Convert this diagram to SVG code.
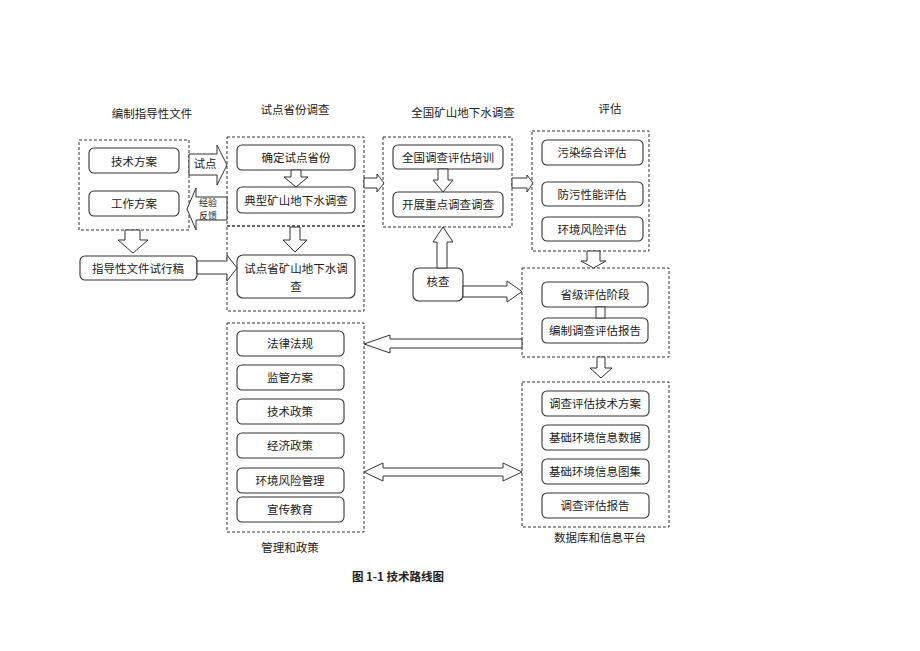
<svg xmlns="http://www.w3.org/2000/svg" width="920" height="651" viewBox="0 0 920 651">
<style>
text{font-family:"Noto Sans CJK SC","Liberation Sans",sans-serif;font-size:11.5px;fill:#222;text-anchor:middle;dominant-baseline:central}
.grp{fill:none;stroke:#333;stroke-width:1;stroke-dasharray:3,2}
.box{fill:#fff;stroke:#333;stroke-width:1.1}
.arr{fill:#fff;stroke:#333;stroke-width:1}
.sm{font-size:9px}
.cap{font-weight:bold;font-size:11.5px}
</style>
<rect width="920" height="651" fill="#fff"/>

<g id="titles">
<text x="152" y="113">编制指导性文件</text>
<text x="295" y="109">试点省份调查</text>
<text x="463" y="112">全国矿山地下水调查</text>
<text x="610" y="108">评估</text>
<text x="290" y="547">管理和政策</text>
<text x="600" y="537">数据库和信息平台</text>
<text class="cap" x="398" y="576">图 1-1 技术路线图</text>
</g>

<g id="group-guide">
<rect class="grp" x="79" y="140" width="110" height="90"/>
</g>
<g id="n-jishufangan"><rect class="box" x="89" y="148" width="90" height="25" rx="5"/><text x="134" y="161">技术方案</text></g>
<g id="n-gongzuofangan"><rect class="box" x="89" y="191" width="90" height="25" rx="5"/><text x="134" y="203">工作方案</text></g>
<g id="n-shixinggao"><rect class="box" x="80" y="256" width="117" height="24" rx="5"/><text x="138" y="268">指导性文件试行稿</text></g>

<g id="group-pilot">
<rect class="grp" x="227" y="137" width="137" height="89"/>
<rect class="grp" x="227" y="226" width="137" height="85"/>
</g>
<g id="n-queding"><rect class="box" x="237" y="145" width="118" height="25" rx="5"/><text x="296" y="157">确定试点省份</text></g>
<g id="n-dianxing"><rect class="box" x="237" y="187" width="118" height="26" rx="5"/><text x="296" y="200">典型矿山地下水调查</text></g>
<g id="n-shidiansheng"><rect class="box" x="237" y="255" width="118" height="43" rx="6"/><text x="296" y="268">试点省矿山地下水调</text><text x="296" y="286">查</text></g>

<g id="group-national">
<rect class="grp" x="383" y="137" width="129" height="90"/>
</g>
<g id="n-peixun"><rect class="box" x="393" y="145" width="110" height="24" rx="5"/><text x="448" y="157">全国调查评估培训</text></g>
<g id="n-kaizhan"><rect class="box" x="393" y="192" width="110" height="25" rx="5"/><text x="448" y="204">开展重点调查调查</text></g>
<g id="n-hecha"><rect class="box" x="413" y="268" width="50" height="33" rx="6"/><text x="438" y="281">核查</text></g>

<g id="group-eval">
<rect class="grp" x="532" y="131" width="117" height="120"/>
</g>
<g id="n-wuran"><rect class="box" x="542" y="140" width="101" height="25" rx="5"/><text x="592" y="152">污染综合评估</text></g>
<g id="n-fangwu"><rect class="box" x="542" y="182" width="101" height="24" rx="5"/><text x="592" y="194">防污性能评估</text></g>
<g id="n-fengxian"><rect class="box" x="542" y="217" width="101" height="24" rx="5"/><text x="592" y="229">环境风险评估</text></g>

<g id="group-province">
<rect class="grp" x="522" y="268" width="147" height="89"/>
</g>
<g id="n-shengji"><rect class="box" x="542" y="282" width="106" height="25" rx="5"/><text x="595" y="294">省级评估阶段</text></g>
<g id="n-bianzhi"><rect class="box" x="542" y="318" width="106" height="25" rx="5"/><text x="595" y="330">编制调查评估报告</text></g>

<g id="group-database">
<rect class="grp" x="522" y="382" width="147" height="145"/>
</g>
<g id="n-jsfa"><rect class="box" x="542" y="391" width="107" height="25" rx="5"/><text x="595" y="403">调查评估技术方案</text></g>
<g id="n-sjsj"><rect class="box" x="542" y="425" width="107" height="25" rx="5"/><text x="595" y="437">基础环境信息数据</text></g>
<g id="n-tuji"><rect class="box" x="542" y="459" width="107" height="25" rx="5"/><text x="595" y="471">基础环境信息图集</text></g>
<g id="n-baogao"><rect class="box" x="542" y="493" width="107" height="25" rx="5"/><text x="595" y="505">调查评估报告</text></g>

<g id="group-policy">
<rect class="grp" x="227" y="323" width="137" height="209"/>
</g>
<g id="n-falv"><rect class="box" x="237" y="331" width="107" height="25" rx="5"/><text x="290" y="343">法律法规</text></g>
<g id="n-jianguan"><rect class="box" x="237" y="365" width="107" height="25" rx="5"/><text x="290" y="377">监管方案</text></g>
<g id="n-jszc"><rect class="box" x="237" y="399" width="107" height="25" rx="5"/><text x="290" y="411">技术政策</text></g>
<g id="n-jjzc"><rect class="box" x="237" y="433" width="107" height="25" rx="5"/><text x="290" y="445">经济政策</text></g>
<g id="n-fxgl"><rect class="box" x="237" y="468" width="107" height="25" rx="5"/><text x="290" y="480">环境风险管理</text></g>
<g id="n-xuanchuan"><rect class="box" x="237" y="497" width="107" height="25" rx="5"/><text x="290" y="509">宣传教育</text></g>

<g id="connectors">
<polygon class="arr" points="189,154 217,154 217,145 227,165 217,185 217,175 189,175"/>
<text x="205" y="163">试点</text>
<polygon class="arr" points="227,197 196,197 196,188 187,209 196,230 196,220 227,220"/>
<text class="sm" x="208" y="202">经验</text>
<text class="sm" x="208" y="215">反馈</text>
<polygon class="arr" points="125,230 140,230 140,240 148,240 133,253 118,240 125,240"/>
<polygon class="arr" points="197,261 227,261 227,255 237,268 227,281 227,274 197,274"/>
<polygon class="arr" points="291,170 301,170 301,177 308,177 296,187 284,177 291,177"/>
<polygon class="arr" points="290,227 300,227 300,240 307,240 295,252 283,240 290,240"/>
<polygon class="arr" points="364,178 377,178 377,174 384,183 377,192 377,188 364,188"/>
<polygon class="arr" points="438,169 448,169 448,180 453,180 443,192 433,180 438,180"/>
<polygon class="arr" points="437,268 447,268 447,242 453,242 443,227 433,242 437,242"/>
<polygon class="arr" points="463,286 507,286 507,281 522,291.5 507,302 507,297 463,297"/>
<polygon class="arr" points="512,178 527,178 527,175 533,183 527,192 527,188 512,188"/>
<polygon class="arr" points="587,251 600,251 600,261 606,261 593.5,268 581,261 587,261"/>
<rect class="arr" x="596" y="307" width="9" height="11"/>
<polygon class="arr" points="597,357 605,357 605,368 612,368 601,378 590,368 597,368"/>
<polygon class="arr" points="522,339 390,339 390,335 364,344 390,353 390,348 522,348"/>
<polygon class="arr" points="364,472 383,463 383,468 503,468 503,463 522,472 503,481 503,476 383,476 383,481"/>
</g>
</svg>
